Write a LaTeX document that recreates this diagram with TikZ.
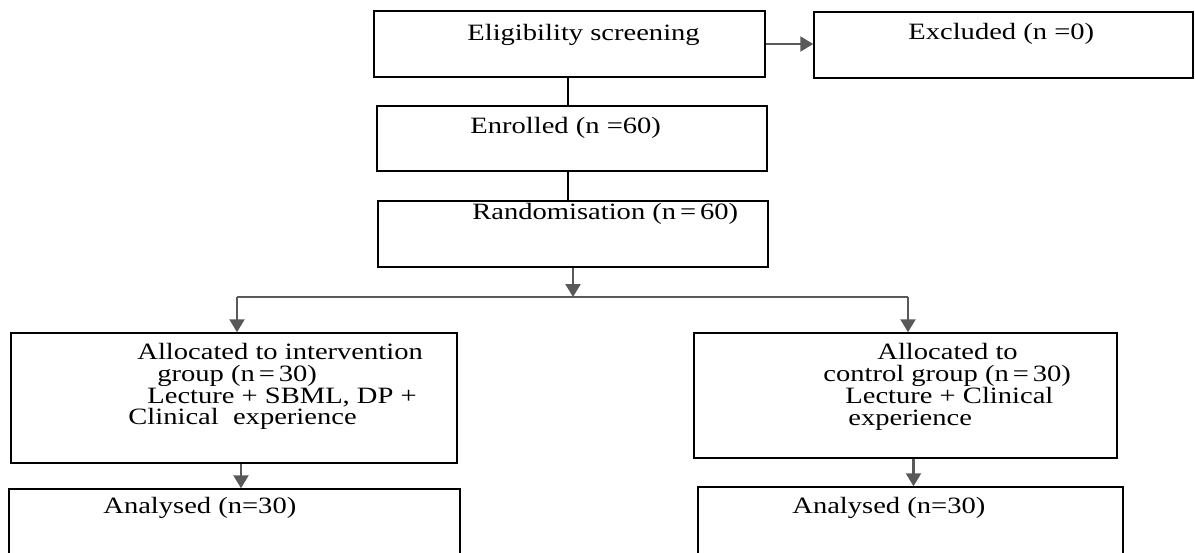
\documentclass[tikz,border=0pt]{standalone}
\usepackage{fontspec}
\setmainfont[FakeStretch=1.22]{Liberation Serif}
\usetikzlibrary{arrows.meta}
\definecolor{arrgray}{HTML}{595959}
\tikzset{
  box/.style={draw=black, line width=0.75pt, rectangle, inner sep=0pt, fill=none},
  txt/.style={anchor=base west, inner sep=0pt, font=\fontsize{11.7}{13}\selectfont},
  arr/.style={draw=arrgray, line width=1.2pt, -{Triangle[length=6.5pt,width=7.5pt]}},
  gline/.style={draw=arrgray, line width=1pt},
  bline/.style={draw=black, line width=1pt}
}
\begin{document}
\begin{tikzpicture}[x=0.5pt, y=-0.5pt]
\useasboundingbox (0,0) rectangle (1195,552);
% boxes
\node[box, minimum width=195.5pt, minimum height=33pt] (elig) at (569.5,44) {};
\node[box, minimum width=189.5pt, minimum height=33pt] (excl) at (1003.5,45) {};
\node[box, minimum width=195pt, minimum height=32.5pt] (enr) at (572,138.5) {};
\node[box, minimum width=195pt, minimum height=33pt] (rand) at (573,234) {};
\node[box, minimum width=223pt, minimum height=65pt] (intv) at (234,398) {};
\node[box, minimum width=211.5pt, minimum height=62.5pt] (ctrl) at (905.5,395.5) {};
\node[box, minimum width=225.5pt, minimum height=43pt] (anL) at (234.5,532) {};
\node[box, minimum width=212.5pt, minimum height=44pt] (anR) at (910.5,531) {};
% texts
\node[txt] (t1) at (467,40) {Eligibility screening};
\node[txt] (t2) at (908,39) {Excluded (n =0)};
\node[txt] (t3) at (470,133) {Enrolled (n =60)};
\node[txt] (t4) at (472,219) {Randomisation (n\,=\,60)};
\node[txt] (t5a) at (137,359) {Allocated to intervention};
\node[txt] (t5b) at (157,381) {group (n\,=\,30)};
\node[txt] (t5c) at (147,403) {Lecture + SBML, DP +};
\node[txt] (t5d) at (128,424) {Clinical\ \ experience};
\node[txt] (t6a) at (877,359) {Allocated to};
\node[txt] (t6b) at (823,381) {control group (n\,=\,30)};
\node[txt] (t6c) at (845,403) {Lecture + Clinical};
\node[txt] (t6d) at (848,425) {experience};
\node[txt] (t7) at (103,513) {Analysed (n=30)};
\node[txt] (t8) at (792,513) {Analysed (n=30)};
% connectors
\coordinate (split) at (573,297);
\coordinate (L) at (237,297);
\coordinate (R) at (908,297);
\draw[bline] ([xshift=-0.75pt]elig.south) -- ([xshift=-0.75pt]elig.south |- enr.north);
\draw[bline] ([xshift=-2pt]enr.south) -- ([xshift=-2pt]enr.south |- rand.north);
\draw[arr] (elig.east) -- (elig.east -| excl.west);
\draw[arr] (rand.south) -- (split);
\draw[gline] (L) -- (R);
\draw[arr] (L) -- (L |- intv.north);
\draw[arr] (R) -- (R |- ctrl.north);
\draw[arr] ([xshift=3.5pt]intv.south) -- ([xshift=3.5pt]intv.south |- anL.north);
\draw[arr] ([xshift=4pt]ctrl.south) -- ([xshift=4pt]ctrl.south |- anR.north);
\end{tikzpicture}
\end{document}
